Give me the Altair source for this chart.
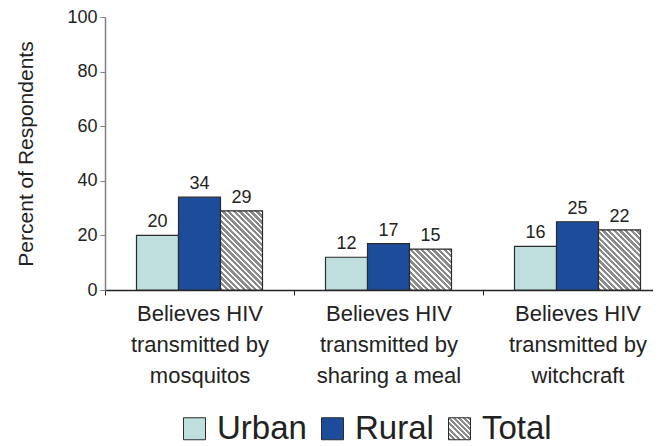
import json
import math
import altair as alt
import pandas as pd

# ---- data ----
categories = [
    "Believes HIV|transmitted by|mosquitos",
    "Believes HIV|transmitted by|sharing a meal",
    "Believes HIV|transmitted by|witchcraft",
]
series = ["Urban", "Rural", "Total"]
urban = [20, 12, 16]
rural = [34, 17, 25]
total = [29, 15, 22]

urban_color = "#bfdfdf"
rural_color = "#1d4c9b"
FONT = "Liberation Sans"

PLOT_W = 567
PLOT_H = 273

rows = []
for i, c in enumerate(categories):
    rows.append({"category": c, "series": "Urban", "value": urban[i]})
    rows.append({"category": c, "series": "Rural", "value": rural[i]})
    rows.append({"category": c, "series": "Total", "value": total[i]})
df = pd.DataFrame(rows)

bar_w = PLOT_W / len(categories) / 4.5


def hatch(w, h, period=4.0, frac=0.6, dark="#8c8c8c", light="#ffffff"):
    k = (w + h) / (w * w + h * h)
    x2 = w * k
    y2 = 1 - h * k
    n = (w + h) / (math.sqrt(2) * period)
    stops = []
    i = 0
    while i < n:
        a = i / n
        b = min((i + frac) / n, 1.0)
        c = min((i + 1) / n, 1.0)
        stops += [
            {"offset": round(a, 4), "color": dark},
            {"offset": round(b, 4), "color": dark},
            {"offset": round(b, 4), "color": light},
            {"offset": round(c, 4), "color": light},
        ]
        i += 1
    return {"gradient": "linear", "x1": 0, "y1": 1, "x2": round(x2, 4), "y2": round(y2, 4), "stops": stops}


legend_grad = hatch(22, 22, period=3.6)
color_range = [urban_color, rural_color, {"expr": json.dumps(legend_grad)}]

x_enc = alt.X(
    "category:N",
    sort=categories,
    scale=alt.Scale(domain=categories, paddingInner=0, paddingOuter=0),
    axis=alt.Axis(
        title=None,
        labelAngle=0,
        labelExpr="split(datum.label, '|')",
        labelFont=FONT,
        labelFontSize=22,
        labelLineHeight=31,
        labelPadding=8,
        labelColor="#222222",
        labelLimit=400,
        tickBand="extent",
        tickSize=5,
        tickColor="#222222",
        domainColor="#222222",
        domainWidth=1.5,
    ),
)
xo_enc = alt.XOffset(
    "series:N",
    sort=series,
    scale=alt.Scale(domain=series, paddingInner=0, paddingOuter=0.75),
)
y_enc = alt.Y(
    "value:Q",
    scale=alt.Scale(domain=[0, 100], nice=False),
    axis=alt.Axis(
        values=[0, 20, 40, 60, 80, 100],
        title="Percent of Respondents",
        titleFont=FONT,
        titleFontSize=21,
        titleFontWeight="normal",
        titleColor="#222222",
        titlePadding=30,
        labelFont=FONT,
        labelFontSize=18,
        labelColor="#222222",
        labelPadding=3,
        tickSize=5,
        tickColor="#808080",
        domainColor="#808080",
        domainWidth=1.5,
        grid=False,
    ),
)

base = alt.Chart(df).encode(x=x_enc, xOffset=xo_enc, y=y_enc)

bars = base.transform_filter(alt.datum.series != "Total").mark_bar(
    stroke="#2b2b2b", strokeWidth=1.2
).encode(
    color=alt.Color(
        "series:N",
        sort=series,
        scale=alt.Scale(domain=series, range=color_range),
        legend=alt.Legend(
            title=None,
            orient="none",
            direction="horizontal",
            legendX=73,
            legendY=395,
            padding=0,
            symbolType="square",
            symbolSize=484,
            symbolStrokeColor="#2b2b2b",
            symbolStrokeWidth=1,
            symbolOpacity=1,
            labelFont=FONT,
            labelFontSize=33,
            labelColor="#222222",
            labelOffset=6,
            columnPadding=9,
        ),
    ),
)

layers = [bars]
for i, c in enumerate(categories):
    h = total[i] / 100 * PLOT_H
    layers.append(
        base.transform_filter(
            (alt.datum.category == c) & (alt.datum.series == "Total")
        ).mark_bar(stroke="#2b2b2b", strokeWidth=1.2, fill=hatch(bar_w, h))
    )

labels = base.mark_text(
    dy=-8, baseline="alphabetic", font=FONT, fontSize=18, color="#222222"
).encode(text=alt.Text("value:Q"))
layers.append(labels)

chart = (
    alt.layer(*layers)
    .properties(
        width=PLOT_W,
        height=PLOT_H,
        padding={"left": 97, "top": 9, "right": -19, "bottom": 156},
        autosize=alt.AutoSizeParams(type="none"),
    )
    .configure_view(stroke=None)
)

chart.save("out.html", embed_options={"renderer": "svg", "actions": False})
